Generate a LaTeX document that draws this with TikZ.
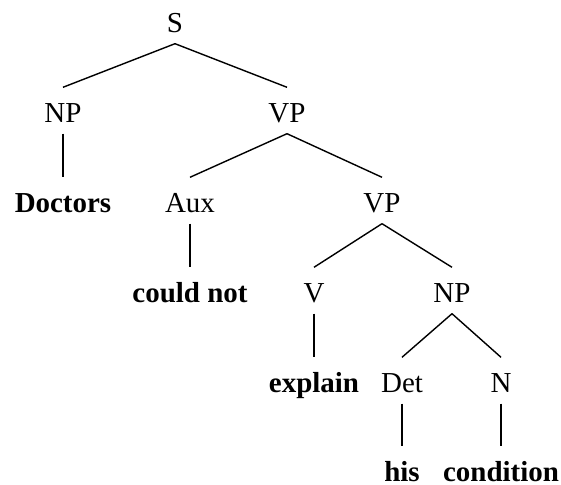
\documentclass[tikz,border=0pt]{standalone}
\usepackage{fontspec}
\setmainfont{Liberation Serif}
\begin{document}
\begin{tikzpicture}[line width=1pt,
   cat/.style={anchor=base,inner sep=0pt,text height=0.875cm,text depth=0.25cm,font=\fontsize{20.6}{24}\selectfont},
   word/.style={cat,text depth=0pt,font=\fontsize{20.6}{24}\selectfont\bfseries}]
   \useasboundingbox (0,0) rectangle (14.025,12.125);
   \node [cat] (s) at (4.375,11.3) {S};
   \node [cat] (np) at (1.575,9.05) {NP};
   \node [cat] (vp) at (7.175,9.05) {VP};
   \node [word] (doctors) at (1.575,6.8) {Doctors};
   \node [cat] (aux) at (4.75,6.8) {Aux};
   \node [cat] (vpb) at (9.55,6.8) {VP};
   \node [word] (couldnot) at (4.75,4.55) {could not};
   \node [cat] (v) at (7.85,4.55) {V};
   \node [cat] (npb) at (11.3,4.55) {NP};
   \node [word] (explain) at (7.85,2.3) {explain};
   \node [cat] (det) at (10.05,2.3) {Det};
   \node [cat] (n) at (12.525,2.3) {N};
   \node [word] (his) at (10.05,0.08) {his};
   \node [word] (condition) at (12.525,0.08) {condition};
   \draw (s.south) -- (np.north);
   \draw (s.south) -- (vp.north);
   \draw (np.south) -- (doctors.north);
   \draw (vp.south) -- (aux.north);
   \draw (vp.south) -- (vpb.north);
   \draw (aux.south) -- (couldnot.north);
   \draw (vpb.south) -- (v.north);
   \draw (vpb.south) -- (npb.north);
   \draw (v.south) -- (explain.north);
   \draw (npb.south) -- (det.north);
   \draw (npb.south) -- (n.north);
   \draw (det.south) -- (his.north);
   \draw (n.south) -- (condition.north);
\end{tikzpicture}
\end{document}
